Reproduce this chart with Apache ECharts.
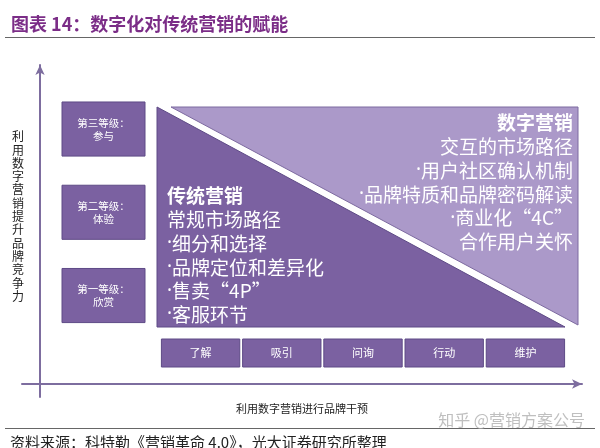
<!DOCTYPE html>
<html><head><meta charset="utf-8">
<script src="https://cdn.jsdelivr.net/npm/echarts@6/dist/echarts.min.js"></script>
<style>html,body{margin:0;padding:0;background:#fff}#c{width:600px;height:448px}</style>
</head><body><div id="c"></div>
<script>
// ---- content ----
const titleText = '图表 14：数字化对传统营销的赋能';
const sourceText = '资料来源：科特勒《营销革命 4.0》，光大证券研究所整理';
const watermarkText = '知乎 @营销方案公号';
const yAxisName = '利用数字营销提升品牌竞争力';
const xAxisName = '利用数字营销进行品牌干预';
const levels = ['第一等级：\n欣赏', '第二等级：\n体验', '第三等级：\n参与'];
const stages = ['了解', '吸引', '问询', '行动', '维护'];
const segments = ['传统营销', '数字营销'];
const traditionalLines = ['常规市场路径', '·细分和选择', '·品牌定位和差异化', '·售卖“4P”', '·客服环节'];
const digitalLines = ['交互的市场路径', '·用户社区确认机制', '·品牌特质和品牌密码解读', '·商业化“4C”', '合作用户关怀'];

const FONT = '"Noto Sans CJK SC", sans-serif';
const DARK = '#7b61a1';
const DARK_EDGE = '#5e4a86';
const LIGHT = '#ab99c9';
const LIGHT_EDGE = '#7d6aa0';
const AXIS = '#7d6d9f';

const chart = echarts.init(document.getElementById('c'), null, {renderer: 'canvas'});

// mark the bullet dot so it renders with a narrow Latin glyph
function bulletText(t) {
  return t.charAt(0) === '·' ? '{d|·}' + t.slice(1) : t;
}

function renderLevel(params, api) {
  const idx = api.value(1);
  const p0 = api.coord([0, idx]);
  const p1 = api.coord([1, idx]);
  const band = api.size([0, 1])[1];
  const h = band * 0.65;
  return {
    type: 'rect',
    shape: {x: p0[0], y: p0[1] - h / 2, width: p1[0] - p0[0], height: h},
    style: {fill: DARK, stroke: DARK_EDGE, lineWidth: 1},
    textContent: {style: {text: levels[idx], fill: '#fff', fontSize: 10.5, lineHeight: 13, fontFamily: FONT, align: 'center'}},
    textConfig: {position: 'inside'}
  };
}

function renderStage(params, api) {
  const idx = api.value(0);
  const top = api.coord([idx, 1]);
  const bot = api.coord([idx, 0]);
  const band = api.size([1, 0])[0];
  const w = band * 0.965;
  return {
    type: 'rect',
    shape: {x: top[0] - w / 2, y: top[1], width: w, height: bot[1] - top[1]},
    style: {fill: DARK, stroke: DARK_EDGE, lineWidth: 1},
    textContent: {style: {text: stages[idx], fill: '#fff', fontSize: 11, fontFamily: FONT, align: 'center'}},
    textConfig: {position: 'inside'}
  };
}

function lineText(t, x, y, bold, align) {
  return {
    type: 'text', x: x, y: y,
    style: {
      text: bulletText(t), fill: '#fff', fontSize: 19, fontWeight: bold ? 'bold' : 'normal',
      fontFamily: FONT, align: align, verticalAlign: 'middle',
      rich: {d: {fontFamily: '"Noto Sans", sans-serif', fontSize: 19, fill: '#fff'}}
    }
  };
}

function renderSegment(params, api) {
  const idx = api.value(0);
  const tl = api.coord([0, 1]);
  const br = api.coord([1, 0]);
  const lh = 23.8;
  const children = [];
  if (idx === 0) {
    children.push({
      type: 'polygon',
      shape: {points: [[tl[0], tl[1]], [tl[0], br[1]], [br[0] - 13, br[1]]]},
      style: {fill: DARK, stroke: DARK_EDGE, lineWidth: 1}
    });
    const lines = [segments[0]].concat(traditionalLines);
    const n = lines.length;
    lines.forEach((t, i) => {
      children.push(lineText(t, tl[0] + 10, br[1] - 12 - (n - 1 - i) * lh, i === 0, 'left'));
    });
  } else {
    children.push({
      type: 'polygon',
      shape: {points: [[tl[0] + 14, tl[1]], [br[0], tl[1]], [br[0], br[1] - 2]]},
      style: {fill: LIGHT, stroke: LIGHT_EDGE, lineWidth: 1}
    });
    const lines = [segments[1]].concat(digitalLines);
    lines.forEach((t, i) => {
      children.push(lineText(t, br[0] - 5, tl[1] + 16 + i * lh, i === 0, 'right'));
    });
  }
  return {type: 'group', children: children};
}

const option = {
  backgroundColor: '#fff',
  animation: false,
  title: [
    {text: titleText, left: 6, top: 10, textStyle: {color: '#7b2d87', fontSize: 18, fontWeight: 'bold', fontFamily: FONT}},
    {text: sourceText, left: 5, top: 430, textStyle: {color: '#222', fontSize: 15, fontWeight: 'normal', fontFamily: FONT}}
  ],
  graphic: [
    {type: 'line', shape: {x1: 5, y1: 37.5, x2: 595, y2: 37.5}, style: {stroke: '#666', lineWidth: 1}},
    {type: 'line', shape: {x1: 5, y1: 428.5, x2: 595, y2: 428.5}, style: {stroke: '#666', lineWidth: 1}},
    {type: 'text', x: 585, y: 420, style: {text: watermarkText, fill: 'rgba(170,170,170,0.75)', fontSize: 16, fontFamily: FONT, align: 'right', verticalAlign: 'middle'}},
    {type: 'text', x: 18, y: 216.5, style: {text: yAxisName.split('').join('\n'), fill: '#222', fontSize: 12, lineHeight: 13.3, fontFamily: FONT, align: 'center', verticalAlign: 'middle'}}
  ],
  grid: [
    {left: 22, top: 300, width: 560, height: 84},     // x arrow
    {left: 40, top: 65, width: 100, height: 332},     // y arrow
    {left: 62, top: 87.4, width: 83, height: 249.75}, // levels
    {left: 160, top: 339, width: 406, height: 28},    // stages
    {left: 157, top: 107, width: 421, height: 220}    // segments
  ],
  xAxis: [
    {gridIndex: 0, type: 'value', min: 0, max: 1,
     axisLine: {show: true, symbol: ['none', 'arrow'], symbolSize: [7, 10], lineStyle: {color: AXIS, width: 2}},
     axisTick: {show: false}, axisLabel: {show: false}, splitLine: {show: false},
     name: xAxisName, nameLocation: 'middle', nameGap: 19,
     nameTextStyle: {color: '#222', fontSize: 11, fontFamily: FONT}},
    {gridIndex: 1, type: 'value', show: false},
    {gridIndex: 2, type: 'value', min: 0, max: 1, show: false},
    {gridIndex: 3, type: 'category', data: stages, show: false},
    {gridIndex: 4, type: 'value', min: 0, max: 1, show: false}
  ],
  yAxis: [
    {gridIndex: 0, type: 'value', show: false},
    {gridIndex: 1, type: 'value', min: 0, max: 1,
     axisLine: {show: true, onZero: false, symbol: ['none', 'arrow'], symbolSize: [7, 10], lineStyle: {color: AXIS, width: 2}},
     axisTick: {show: false}, axisLabel: {show: false}, splitLine: {show: false}},
    {gridIndex: 2, type: 'category', data: levels, show: false},
    {gridIndex: 3, type: 'value', min: 0, max: 1, show: false},
    {gridIndex: 4, type: 'value', min: 0, max: 1, show: false}
  ],
  series: [
    {type: 'custom', xAxisIndex: 2, yAxisIndex: 2, renderItem: renderLevel,
     data: levels.map((l, i) => [0, i]), silent: true},
    {type: 'custom', xAxisIndex: 3, yAxisIndex: 3, renderItem: renderStage,
     data: stages.map((s, i) => [i, 0]), silent: true},
    {type: 'custom', xAxisIndex: 4, yAxisIndex: 4, renderItem: renderSegment,
     data: segments.map((s, i) => [i, 0]), silent: true}
  ]
};
chart.setOption(option);
</script>
</body></html>
